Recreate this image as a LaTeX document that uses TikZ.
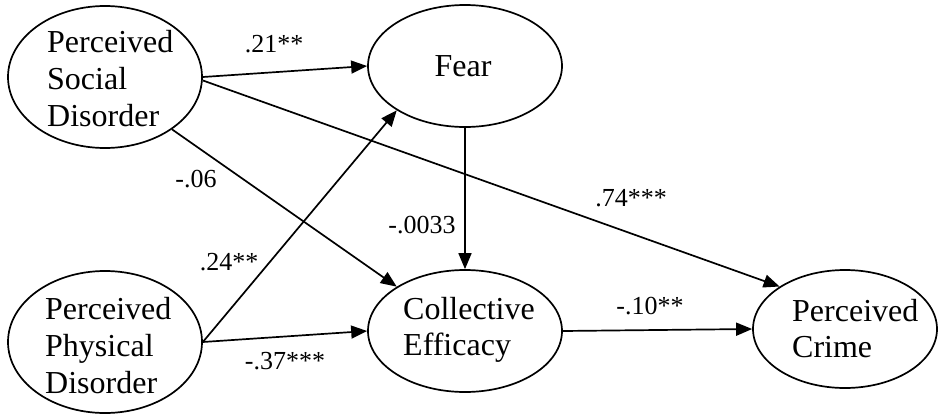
\documentclass[tikz,border=0pt]{standalone}
\usepackage{fontspec}
\setmainfont{Liberation Serif}
\usetikzlibrary{shapes.geometric,arrows.meta}
\begin{document}
\begin{tikzpicture}[x=1pt,y=-1pt,
  latent/.style={draw, ellipse, line width=1.7pt, inner sep=0pt},
  ntext/.style={inner sep=0pt, align=left, font=\fontsize{32}{37}\selectfont},
  coef/.style={inner sep=0pt, font=\fontsize{26}{30}\selectfont},
  path/.style={line width=1.7pt, -{Triangle[length=16pt,width=13pt]}}]
\useasboundingbox (0,0) rectangle (938,413);
% latent variables
\node[latent, minimum width=194pt, minimum height=142pt] (soc) at (105,77) {};
\node[latent, minimum width=194pt, minimum height=142pt] (phy) at (105,342) {};
\node[latent, minimum width=194pt, minimum height=122pt] (fear) at (465,66) {};
\node[latent, minimum width=194pt, minimum height=122pt] (ce) at (465,331) {};
\node[latent, minimum width=184pt, minimum height=118pt] (cr) at (845,329) {};
% texts
\node[ntext, anchor=west] (socT) at (47,79) {Perceived\\Social\\Disorder};
\node[ntext, anchor=west] (phyT) at (45,346) {Perceived\\Physical\\Disorder};
\node[ntext] (fearT) at (463,66) {Fear};
\node[ntext, anchor=west, font=\fontsize{32}{36}\selectfont] (ceT) at (403,330) {Collective\\Efficacy};
\node[ntext, anchor=west, font=\fontsize{32}{36}\selectfont] (crT) at (792,329) {Perceived\\Crime};
% paths
\draw[path] (soc.east) -- (fear.west);
\draw[path] (soc.-2) -- (cr.147);
\draw[path] (soc.-38) -- (ce.147);
\draw[path] (phy.east) -- (fear.213);
\draw[path] (phy.east) -- (ce.west);
\draw[path] (fear.south) -- (ce.north);
\draw[path] (ce.east) -- (cr.west);
% coefficients
\node[coef] (l1) at (274,44) {.21**};
\node[coef] (l2) at (196,179) {-.06};
\node[coef] (l3) at (229,262) {.24**};
\node[coef] (l4) at (285,361) {-.37***};
\node[coef] (l5) at (422,225) {-.0033};
\node[coef] (l6) at (631,198) {.74***};
\node[coef] (l7) at (650,306) {-.10**};
\end{tikzpicture}
\end{document}
